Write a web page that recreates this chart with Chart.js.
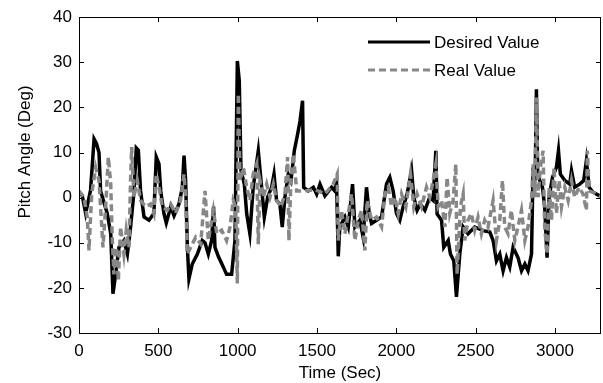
<!DOCTYPE html>
<html>
<head>
<meta charset="utf-8">
<script src="https://cdn.jsdelivr.net/npm/chart.js@4"></script>
<style>
  html, body { margin: 0; padding: 0; background: #fff; }
  #wrap { width: 603px; height: 383px; }
</style>
</head>
<body>
<div id="wrap"><canvas id="grafico" width="603" height="383"></canvas></div>
<script>
// tempo (s) e valor desejado (graus)
const desiredTime = [0,20,42,73,95,110,126,136,157,178,200,214,231,252,283,305,325,347,361,374,388,410,441,472,487,504,515,535,550,578,599,630,651,662,672,683,693,714,746,777,794,815,836,848,857,878,910,930,962,983,998,1010,1021,1042,1057,1077,1098,1130,1147,1168,1189,1214,1229,1245,1266,1281,1298,1319,1336,1357,1378,1393,1409,1416,1445,1477,1498,1519,1550,1592,1612,1623,1634,1644,1676,1697,1724,1739,1770,1791,1812,1829,1844,1875,1907,1938,1959,1980,2001,2022,2043,2068,2096,2110,2131,2152,2180,2211,2232,2249,2257,2285,2299,2327,2341,2362,2379,2400,2421,2452,2494,2547,2589,2610,2631,2652,2673,2694,2715,2736,2767,2789,2810,2830,2852,2862,2875,2883,2891,2904,2921,2935,2950,2963,2984,3009,3022,3034,3062,3093,3104,3124,3156,3181,3198,3215,3240,3282,3290];
const desiredValue = [1,0.5,-3.5,1.7,13,12,10,1.5,-1,-3.5,-8,-21.3,-17,-11,-9.5,-12.5,-6.5,1.5,11,10.5,1.5,-4.3,-5,-3.5,9,7.5,1.5,-3.5,-5.6,-2,-4,-1.4,2.3,9.3,3.8,-11,-18,-14.7,-12.5,-9.5,-10,-12.5,-9.5,-2,-11,-13,-15.4,-17,-17,-9.5,30.3,26,6,3,-3.6,-8,2.3,10.4,3.8,-4.3,0.1,2.3,5.2,-0.6,-1.4,-6.5,0.1,5.2,3.8,10.4,14.1,17,21.5,2.3,1.5,2.3,0.8,3,0.4,2.3,1.5,3.8,-13,-6.5,-4.3,-6.5,3,-6.5,-5,-8.8,2.3,-3.5,-5.7,-5,-4.3,3,4.5,1.5,-3.5,-5,-2,0.8,6,0.1,-2.8,-1.4,-2.8,0.1,-0.6,10.4,-3.6,-5,-11,-9.5,-12.5,-14,-22,-12.5,-6.5,-8,-6.5,-7.3,-7.6,-9.5,-14,-12.5,-16.2,-13.3,-15.4,-11,-13.3,-16.2,-14.7,-16.2,-12.5,6.7,3.8,24,5.2,3.8,2.3,-2,-13.3,0.1,4.5,6.7,10.4,5.2,3.8,3,6,2.3,3,3.8,8.2,2.3,1.2,0.4,0];

// tempo (s) e valor real (graus)
const realTime = [0,31,52,63,80,105,126,136,151,168,185,200,210,220,235,248,262,283,298,315,325,332,346,367,388,420,451,472,487,504,525,556,578,609,640,662,672,683,704,735,767,794,815,847,868,899,930,952,972,987,998,1004,1015,1036,1057,1077,1098,1120,1130,1141,1162,1183,1204,1225,1245,1273,1298,1315,1323,1336,1351,1372,1424,1487,1550,1602,1627,1634,1654,1676,1697,1718,1739,1760,1781,1802,1816,1844,1875,1907,1928,1949,1970,1991,2012,2033,2060,2089,2110,2131,2159,2190,2211,2232,2249,2264,2285,2306,2320,2337,2358,2375,2383,2404,2421,2431,2452,2473,2494,2515,2536,2557,2578,2610,2631,2652,2669,2683,2704,2725,2747,2767,2789,2810,2830,2852,2862,2873,2883,2894,2908,2925,2935,2950,2963,2978,2994,3009,3026,3041,3062,3083,3104,3124,3152,3177,3198,3204,3215,3240,3282,3290];
const realValue = [1.5,0.1,-4.3,-11.7,0.8,6.7,3.8,-2,-11,-2,9,3,-9.5,-17,-11,-18.4,-6.5,-12.5,-7.2,-11,3.8,11.2,0.1,3.8,-0.6,-2,-1.4,-3.5,5.2,2.3,-2,-2.8,-1.4,-3.5,-0.6,5.2,0.1,-12.5,-11,-8.8,-10.3,1.5,-9.5,-2.8,-8,-7.2,-9.5,-6.5,-0.6,-2,-19,23,3.8,6.7,2.3,-0.6,5.2,7.4,-10.3,3.8,0.1,3,0.1,3,-0.6,-2,0.8,9,-9.5,3.8,9.7,1.5,1.5,1.8,0.8,3,5.2,-9.5,-2.8,-8,-3.5,0.8,-9.5,-5,-2.8,-11.7,-0.6,-5,-4.3,-6.5,0.8,2.3,-2,0.1,-3.5,0.8,-2,5.2,-2,0.8,-2,2.3,0.1,3.8,7.4,-2,-0.6,-6.5,4.5,-3.5,-0.6,7.4,-17,-2,0.8,-9.5,-5,-3.5,-7.2,-4.3,-8,-5,-6.5,-0.6,-9.5,-5,3.8,-6.5,-8,-2.8,-9.5,-6.5,-2.8,-9.5,-6.5,-0.6,7.4,0.1,22.2,0.1,6.7,10.4,-6.5,-12.5,2.3,-5,6.7,-3.5,3.8,-2,2.3,-0.6,3.8,0.1,2.3,0.8,-2.8,10.4,1.5,1.2,0.4,0];

const yTicks = [-30, -20, -10, 0, 10, 20, 30, 40];
const xTicks = [0, 500, 1000, 1500, 2000, 2500, 3000];
const legendLabels = ['Desired Value', 'Real Value'];

const familia = '"Liberation Sans", Arial, sans-serif';
const fonte = '17px ' + familia;

const molduraPlugin = {
  id: 'moldura',
  afterDraw(chart) {
    const ctx = chart.ctx;
    const a = chart.chartArea;
    const sx = chart.scales.x, sy = chart.scales.y;
    ctx.save();
    ctx.strokeStyle = '#000';
    ctx.lineWidth = 1;
    ctx.strokeRect(Math.round(a.left) + 0.5, Math.round(a.top) + 0.5, Math.round(a.right - a.left) - 1, Math.round(a.bottom - a.top));
    // marcas para dentro
    ctx.beginPath();
    xTicks.forEach(v => {
      const px = Math.round(sx.getPixelForValue(v)) + 0.5;
      ctx.moveTo(px, a.bottom); ctx.lineTo(px, a.bottom - 5);
      ctx.moveTo(px, a.top); ctx.lineTo(px, a.top + 5);
    });
    yTicks.forEach(v => {
      const py = Math.round(sy.getPixelForValue(v)) + 0.5;
      ctx.moveTo(a.left, py); ctx.lineTo(a.left + 5, py);
      ctx.moveTo(a.right, py); ctx.lineTo(a.right - 5, py);
    });
    ctx.stroke();

    // titulos dos eixos
    ctx.fillStyle = '#000';
    ctx.font = fonte;
    ctx.textAlign = 'center';
    ctx.textBaseline = 'middle';
    ctx.fillText('Time (Sec)', (a.left + a.right) / 2, 373);
    ctx.save();
    ctx.translate(25, 152);
    ctx.rotate(-Math.PI / 2);
    ctx.fillText('Pitch Angle (Deg)', 0, 0);
    ctx.restore();

    // legenda
    const ds = chart.data.datasets;
    const linhas = [42, 70];
    ds.forEach((d, i) => {
      ctx.beginPath();
      ctx.strokeStyle = d.borderColor;
      ctx.lineWidth = 3;
      ctx.setLineDash(d.borderDash || []);
      ctx.moveTo(368, linhas[i]);
      ctx.lineTo(430, linhas[i]);
      ctx.stroke();
      ctx.setLineDash([]);
      ctx.textAlign = 'left';
      ctx.fillStyle = '#000';
      ctx.fillText(d.label, 434, linhas[i] + 1);
    });
    ctx.restore();
  }
};

const ctx = document.getElementById('grafico').getContext('2d');
new Chart(ctx, {
  type: 'line',
  data: {
    datasets: [
      {
        label: legendLabels[0],
        data: desiredTime.map((t, i) => ({ x: t, y: desiredValue[i] })),
        borderColor: '#000000',
        borderWidth: 3.5,
        pointRadius: 0,
        tension: 0,
        fill: false,
        order: 2
      },
      {
        label: legendLabels[1],
        data: realTime.map((t, i) => ({ x: t, y: realValue[i] })),
        borderColor: '#878787',
        borderWidth: 3.5,
        borderDash: [7, 4],
        pointRadius: 0,
        tension: 0,
        fill: false,
        order: 1
      }
    ]
  },
  options: {
    responsive: false,
    devicePixelRatio: 1,
    animation: false,
    layout: { padding: { left: 0, top: 17, right: 2, bottom: 0 } },
    plugins: {
      legend: { display: false },
      tooltip: { enabled: false }
    },
    scales: {
      x: {
        type: 'linear',
        min: 0,
        max: 3290,
        afterBuildTicks: s => { s.ticks = xTicks.map(v => ({ value: v })); },
        afterFit: s => { s.height = 50; },
        grid: { drawOnChartArea: false, drawTicks: false },
        border: { display: false },
        ticks: { color: '#000', font: { family: familia, size: 17 }, padding: 8, maxRotation: 0, callback: v => String(v) }
      },
      y: {
        min: -30,
        max: 40,
        afterBuildTicks: s => { s.ticks = yTicks.map(v => ({ value: v })); },
        afterFit: s => { s.width = 79; },
        grid: { drawOnChartArea: false, drawTicks: false },
        border: { display: false },
        ticks: { color: '#000', font: { family: familia, size: 17 }, padding: 7, callback: v => String(v) }
      }
    }
  },
  plugins: [molduraPlugin]
});
</script>
</body>
</html>
